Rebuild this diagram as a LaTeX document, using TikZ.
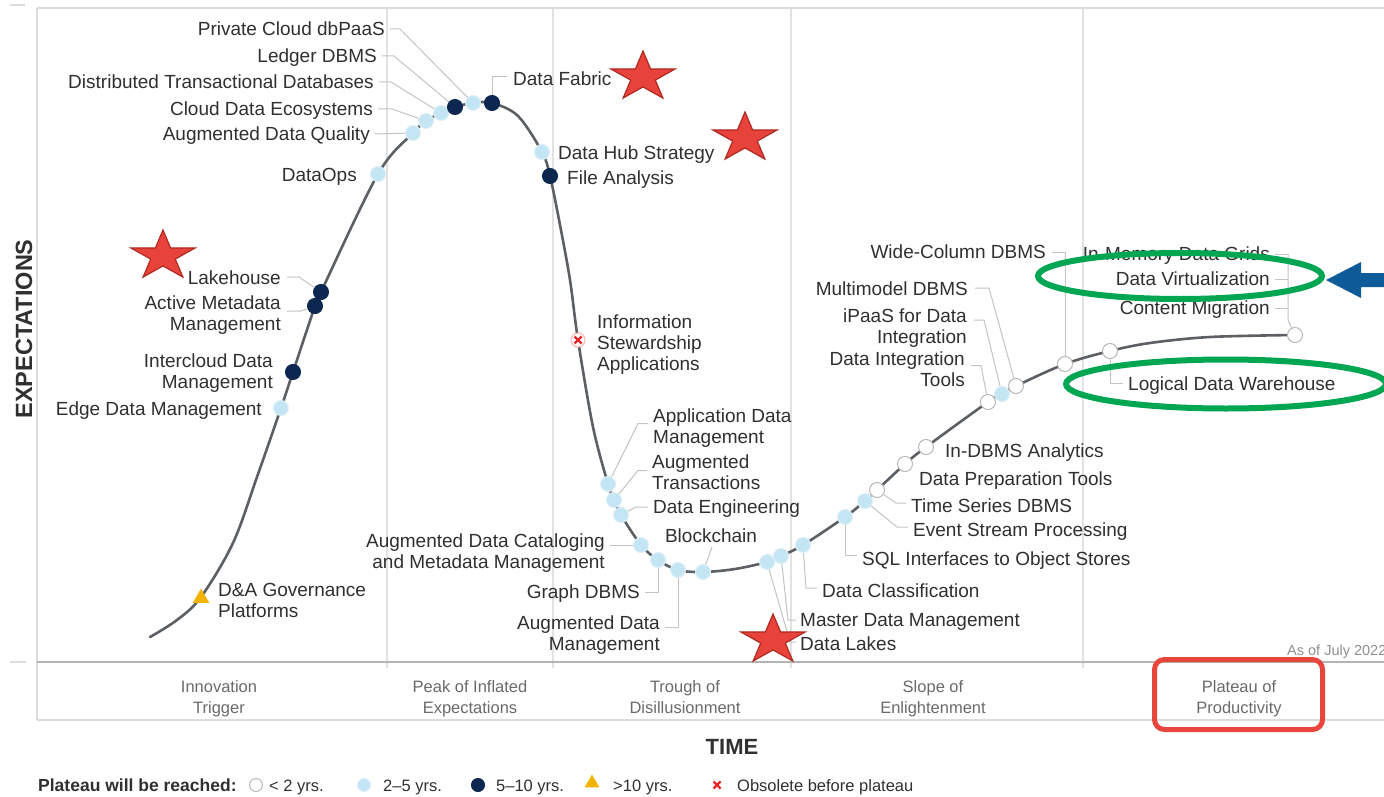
\documentclass[tikz,border=0pt]{standalone}
\usepackage{fontspec}
\setmainfont{Liberation Sans}
\usetikzlibrary{shapes.geometric,calc}
\definecolor{txt}{HTML}{303030}
\definecolor{phc}{HTML}{6A6A6A}
\definecolor{ldc}{HTML}{C4C4C4}
\definecolor{frc}{HTML}{DCDCDC}
\definecolor{axc}{HTML}{B4B4B4}
\definecolor{sepc}{HTML}{E2E2E2}
\definecolor{crvc}{HTML}{5C6064}
\definecolor{dwb}{HTML}{B8B8B8}
\definecolor{dlf}{HTML}{C4E5F4}
\definecolor{dlb}{HTML}{DDEFF8}
\definecolor{ddf}{HTML}{0C2851}
\definecolor{yel}{HTML}{F2B400}
\definecolor{xred}{HTML}{E8262A}
\definecolor{xpink}{HTML}{F5B5B5}
\definecolor{starf}{HTML}{E8433A}
\definecolor{stard}{HTML}{B02A22}
\definecolor{grn}{HTML}{00A651}
\definecolor{arrb}{HTML}{0D5B98}
\definecolor{redr}{HTML}{E8453C}
\definecolor{asof}{HTML}{909090}
\begin{document}
\begin{tikzpicture}[x=1pt,y=-1pt,
  lbl/.style={font=\fontsize{19}{21}\selectfont, text=txt, inner sep=0pt, execute at end node=\vphantom{g}},
  one/.style={text height=13.6pt, text depth=0pt},
  ph/.style={font=\fontsize{16.5}{21}\selectfont, text=phc, align=center, inner sep=0pt, execute at end node=\vphantom{g}},
  leg/.style={font=\fontsize{16.5}{18}\selectfont, text=txt, inner sep=0pt, anchor=west, text height=12pt, text depth=0pt},
  ldr/.style={draw=ldc, line width=1pt},
  dotw/.style={circle, minimum size=15pt, inner sep=0pt, fill=white, draw=dwb, line width=1pt},
  dotl/.style={circle, minimum size=15pt, inner sep=0pt, fill=dlf, draw=dlb, line width=1pt},
  dotd/.style={circle, minimum size=15pt, inner sep=0pt, fill=ddf, draw=ddf, line width=1pt},
  tri/.style={regular polygon, regular polygon sides=3, minimum size=19pt, inner sep=0pt, fill=yel},
  xmk/.style={circle, minimum size=14pt, inner sep=0pt, fill=white, draw=xpink, line width=1pt,
    path picture={\draw[xred, line width=2.2pt]
      ([shift={(-3.5pt,-3.5pt)}]path picture bounding box.center) -- ([shift={(3.5pt,3.5pt)}]path picture bounding box.center)
      ([shift={(-3.5pt,3.5pt)}]path picture bounding box.center) -- ([shift={(3.5pt,-3.5pt)}]path picture bounding box.center);}},
  rstar/.style={star, star points=5, star point ratio=2.618, minimum size=52pt, inner sep=0pt,
    fill=starf, draw=stard, line width=1.2pt, xscale=1.3, transform shape}
]
\useasboundingbox (0,0) rectangle (1384,797);
\clip (0,0) rectangle (1384,797);
\fill[white] (0,0) rectangle (1384,797);

% frame
\draw[frc, line width=2pt] (37,8) -- (1384,8);
\draw[frc, line width=2pt] (37,8) -- (37,720);
\draw[frc, line width=2pt] (37,720) -- (1384,720);
\draw[frc, line width=1.5pt] (10,5) -- (25,5);
\draw[frc, line width=1.5pt] (10,662) -- (26,662);
\foreach \xx in {387,553,791,1083} \draw[sepc, line width=1.3pt] (\xx,9) -- (\xx,668);
\draw[axc, line width=2.2pt] (37,662) -- (1384,662);

% curve
\draw[crvc, line width=2.6pt, line cap=round] plot[smooth, tension=0.55] coordinates {
 (150,637) (177,620) (201,597) (233,543) (257,477) (281,408) (293,372) (315,306) (321,292)
 (378,174) (413,133) (426,121) (441,113) (455,107) (473,103) (492,103) (518,116) (542,152) (550,176)
 (560,225) (570,280) (578,340) (593,427) (608,484) (614,500) (621,515) (641,545) (658,560) (678,570)
 (703,572) (735,569) (767,562) (781,556) (803,545) (845,517) (865,501) (877,490) (905,464) (926,447)
 (988,402) (1002,394) (1016,386) (1065,364) (1110,351) (1150,343) (1210,337) (1295,335)};

% dots
\node[tri]  (dDA)  at (201,598) {};
\node[dotl] (dEDM) at (281,408) {};
\node[dotd] (dICD) at (293,372) {};
\node[dotd] (dAMM) at (315,306) {};
\node[dotd] (dLKH) at (321,292) {};
\node[dotl] (dDOP) at (378,174) {};
\node[dotl] (dADQ) at (413,133) {};
\node[dotl] (dCDE) at (426,121) {};
\node[dotl] (dDTD) at (441,113) {};
\node[dotd] (dLDB) at (455,107) {};
\node[dotl] (dPCD) at (473,103) {};
\node[dotd] (dDFA) at (492,103) {};
\node[dotl] (dDHS) at (542,152) {};
\node[dotd] (dFAN) at (550,176) {};
\node[xmk]  (dISA) at (578,340) {};
\node[dotl] (dAPD) at (608,484) {};
\node[dotl] (dATR) at (614,500) {};
\node[dotl] (dDEN) at (621,515) {};
\node[dotl] (dADC) at (641,545) {};
\node[dotl] (dGDB) at (658,560) {};
\node[dotl] (dADM) at (678,570) {};
\node[dotl] (dBCH) at (703,572) {};
\node[dotl] (dDLK) at (767,562) {};
\node[dotl] (dMDM) at (781,556) {};
\node[dotl] (dDCL) at (803,545) {};
\node[dotl] (dSQL) at (845,517) {};
\node[dotl] (dESP) at (865,501) {};
\node[dotw] (dTSD) at (877,490) {};
\node[dotw] (dDPT) at (905,464) {};
\node[dotw] (dINA) at (926,447) {};
\node[dotw] (dDIT) at (988,402) {};
\node[dotl] (dIPA) at (1002,394) {};
\node[dotw] (dMMD) at (1016,386) {};
\node[dotw] (dWCD) at (1065,364) {};
\node[dotw] (dLDW) at (1110,351) {};
\node[dotw] (dEND) at (1295,335) {};

% labels
\node[lbl,one,anchor=east] (pcd) at (385,29) {Private Cloud dbPaaS};
\node[lbl,one,anchor=east] (ldb) at (377,56) {Ledger DBMS};
\node[lbl,one,anchor=east] (dtd) at (374,82) {Distributed Transactional Databases};
\node[lbl,one,anchor=east] (cde) at (373,109) {Cloud Data Ecosystems};
\node[lbl,one,anchor=east] (adq) at (370,134) {Augmented Data Quality};
\node[lbl,one,anchor=east] (dop) at (357,175) {DataOps};
\node[lbl,one,anchor=east] (lkh) at (281,278) {Lakehouse};
\node[lbl,anchor=east,align=right] (amm) at (281,315) {Active Metadata\\Management};
\node[lbl,anchor=east,align=right] (icd) at (273,373.5) {Intercloud Data\\Management};
\node[lbl,one,anchor=east] (edm) at (262,409) {Edge Data Management};
\node[lbl,anchor=west,align=left] (dag) at (218,602.5) {D\&A Governance\\Platforms};
\node[lbl,one,anchor=west] (dfa) at (513,79) {Data Fabric};
\node[lbl,one,anchor=west] (dhs) at (558,153) {Data Hub Strategy};
\node[lbl,one,anchor=west] (fan) at (567,178) {File Analysis};
\node[lbl,anchor=west,align=left] (isa) at (597,345) {Information\\Stewardship\\Applications};
\node[lbl,anchor=west,align=left] (apd) at (653,428.5) {Application Data\\Management};
\node[lbl,anchor=west,align=left] (atr) at (652,474.5) {Augmented\\Transactions};
\node[lbl,one,anchor=west] (den) at (653,507) {Data Engineering};
\node[lbl,one] (bch) at (711,536) {Blockchain};
\node[lbl,anchor=east,align=right] (adc) at (605,553) {Augmented Data Cataloging\\and Metadata Management};
\node[lbl,one,anchor=east] (gdb) at (640,592) {Graph DBMS};
\node[lbl,anchor=east,align=right] (adm) at (660,635.5) {Augmented Data\\Management};
\node[lbl,one,anchor=west] (mdm) at (800,620) {Master Data Management};
\node[lbl,one,anchor=west] (dlk) at (800,644) {Data Lakes};
\node[lbl,one,anchor=west] (dcl) at (822,591) {Data Classification};
\node[lbl,one,anchor=west] (sql) at (862,559) {SQL Interfaces to Object Stores};
\node[lbl,one,anchor=west] (esp) at (913,530) {Event Stream Processing};
\node[lbl,one,anchor=west] (tsd) at (911,506) {Time Series DBMS};
\node[lbl,one,anchor=west] (dpt) at (919,479) {Data Preparation Tools};
\node[lbl,one,anchor=west] (ina) at (945,451) {In-DBMS Analytics};
\node[lbl,anchor=east,align=right] (dit) at (965,371.5) {Data Integration\\Tools};
\node[lbl,anchor=east,align=right] (ipa) at (967,328) {iPaaS for Data\\Integration};
\node[lbl,one,anchor=east] (mmd) at (968,289) {Multimodel DBMS};
\node[lbl,one,anchor=east] (wcd) at (1046,252) {Wide-Column DBMS};
\node[lbl,one,anchor=east] (imd) at (1270,254) {In-Memory Data Grids};
\node[lbl,one,anchor=east] (dvz) at (1270,279) {Data Virtualization};
\node[lbl,one,anchor=east] (cmg) at (1270,308) {Content Migration};
\node[lbl,one,anchor=west] (ldw) at (1128,384) {Logical Data Warehouse};

% leaders
\draw[ldr] ($(pcd.east)+(5,0)$) -- ++(10,0) -- (dPCD);
\draw[ldr] ($(ldb.east)+(5,0)$) -- ++(12,0) -- (dLDB);
\draw[ldr] ($(dtd.east)+(5,0)$) -- ++(12,0) -- (dDTD);
\draw[ldr] ($(cde.east)+(5,0)$) -- ++(14,0) -- (dCDE);
\draw[ldr] ($(adq.east)+(5,0)$) -- (dADQ);
\draw[ldr] ($(dfa.west)+(-6,-2)$) -| (dDFA);
\draw[ldr] ($(lkh.east)+(6,-1)$) -- ++(12,0) -- (dLKH);
\draw[ldr] ($(amm.east)+(6,-4)$) -- ++(14,0) -- (dAMM);
\draw[ldr] ($(apd.west)+(-5,-5)$) -- ++(-10,0) -- (dAPD);
\draw[ldr] ($(atr.west)+(-5,-4)$) -- ++(-9,0) -- (dATR);
\draw[ldr] ($(den.west)+(-5,0)$) -- ++(-12,0) -- (dDEN);
\draw[ldr] ($(bch.south)+(1,4)$) -- (dBCH);
\draw[ldr] ($(adc.east)+(5,-8)$) -- (dADC);
\draw[ldr] ($(gdb.east)+(5,0)$) -| (dGDB);
\draw[ldr] ($(adm.east)+(5,-8)$) -| (dADM);
\draw[ldr] (dMDM) -- ($(mdm.west)+(-12,0)$) -- ($(mdm.west)+(-4,0)$);
\draw[ldr] (dDLK) -- ($(dlk.west)+(-10,-2)$) -- ($(dlk.west)+(-4,-2)$);
\draw[ldr] (dDCL) -- ($(dcl.west)+(-16,-3)$) -- ($(dcl.west)+(-5,-3)$);
\draw[ldr] (dSQL) |- ($(sql.west)+(-5,-4)$);
\draw[ldr] (dESP) -- ($(esp.west)+(-16,-3)$) -- ($(esp.west)+(-5,-3)$);
\draw[ldr] (dTSD) -- ($(tsd.west)+(-15,-3)$) -- ($(tsd.west)+(-5,-3)$);
\draw[ldr] ($(dit.east)+(6,-6)$) -- ++(10,0) -- (dDIT);
\draw[ldr] ($(ipa.east)+(7,-8)$) -- ++(10,0) -- (dIPA);
\draw[ldr] ($(mmd.east)+(7,-1)$) -- ++(14,0) -- (dMMD);
\draw[ldr] ($(wcd.east)+(6,0)$) -| (dWCD);
\draw[ldr] ($(imd.east)+(5,0)$) -- ++(13,0);
\draw[ldr] ($(dvz.east)+(5,0)$) -- ++(13,0);
\draw[ldr] ($(cmg.east)+(5,0)$) -- ++(13,0);
\draw[ldr] ($(imd.east)+(18,0)$) -- ($(cmg.east)+(18,12)$) -- (dEND);
\draw[ldr] (dLDW) |- ($(ldw.west)+(-5,-1)$);

% phase labels
\node[ph] (p1) at (219,699) {Innovation\\Trigger};
\node[ph] (p2) at (470,699) {Peak of Inflated\\Expectations};
\node[ph] (p3) at (685,699) {Trough of\\Disillusionment};
\node[ph] (p4) at (933,699) {Slope of\\Enlightenment};
\node[ph] (p5) at (1239,699) {Plateau of\\Productivity};
\node[font=\fontsize{14.5}{16}\selectfont, text=asof, anchor=west, inner sep=0pt] (asof) at (1287,652) {As of July 2022};

% axis titles
\node[font=\bfseries\fontsize{23.5}{26}\selectfont, text=txt, rotate=90, inner sep=0pt] (ylab) at (24,329) {EXPECTATIONS};
\node[font=\bfseries\fontsize{22}{24}\selectfont, text=txt, inner sep=0pt] (xlab) at (732,747) {TIME};

% legend
\node[leg, font=\bfseries\fontsize{17.5}{18}\selectfont] (lg0) at (38,785) {Plateau will be reached:};
\node[dotw, minimum size=13pt] (lgw) at (256,785) {};
\node[leg] (lgwt) at (269,785) {< 2 yrs.};
\node[dotl, minimum size=13pt] (lgl) at (364,785) {};
\node[leg] (lglt) at (383,785) {2--5 yrs.};
\node[dotd, minimum size=13pt] (lgd) at (478,785) {};
\node[leg] (lgdt) at (496,785) {5--10 yrs.};
\node[tri, minimum size=17pt] (lgy) at (592,783) {};
\node[leg] (lgyt) at (613,785) {>10 yrs.};
\node[xmk, draw=white] (lgx) at (717,785) {};
\node[leg] (lgxt) at (737,785) {Obsolete before plateau};

% annotations
\node[rstar] (s1) at (643,77) {};
\node[rstar] (s2) at (745,138) {};
\node[rstar] (s3) at (163,256) {};
\node[rstar] (s4) at (773,640) {};
\draw[grn, line width=6pt] (1180,276) ellipse [x radius=142, y radius=23];
\draw[grn, line width=6pt] (1226,384) ellipse [x radius=160, y radius=24.5];
\fill[arrb] (1326,280) -- (1361,262) -- (1361,273) -- (1392,273) -- (1392,287) -- (1361,287) -- (1361,298) -- cycle;
\draw[redr, line width=5pt, rounded corners=10pt] (1154.5,659.5) rectangle (1322.5,729.5);
\end{tikzpicture}
\end{document}
